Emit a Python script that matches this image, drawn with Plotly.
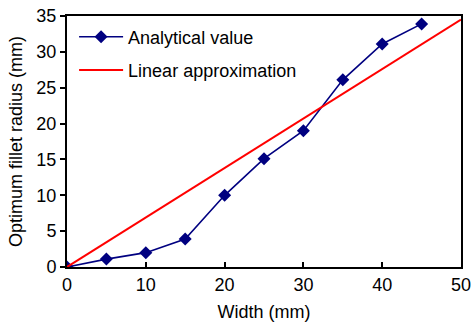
import plotly.graph_objects as go

width_mm = [0, 5, 10, 15, 20, 25, 30, 35, 40, 45]
analytical = [0, 1.1, 2.0, 3.9, 10.0, 15.1, 19.0, 26.1, 31.1, 33.9]
lin_x = [0, 50]
lin_y = [0, 34.5]

fig = go.Figure()
fig.add_trace(go.Scatter(x=width_mm, y=analytical, mode="lines+markers",
                         name="Analytical value", legendgroup="a",
                         line=dict(color="#000080", width=1.6),
                         marker=dict(symbol="diamond", size=10, color="#000080")))
fig.add_trace(go.Scatter(x=lin_x, y=lin_y, mode="lines",
                         name="Linear approximation", legendgroup="b",
                         line=dict(color="#ff0000", width=2)))

font = "Liberation Sans, Arial, sans-serif"
fig.update_layout(
    width=473, height=322,
    margin=dict(l=67, r=12, t=16, b=55),
    plot_bgcolor="white", paper_bgcolor="white",
    font=dict(family=font, size=18, color="black"),
    legend=dict(x=0.018, y=0.99, xanchor="left", yanchor="top",
                bgcolor="rgba(0,0,0,0)", font=dict(size=18),
                tracegroupgap=7, itemwidth=44),
    xaxis=dict(range=[0, 50], tickvals=[0, 10, 20, 30, 40, 50],
               ticks="inside", ticklen=5, tickwidth=2, tickcolor="black",
               showline=True, linecolor="black", linewidth=2, mirror=True,
               showgrid=False, zeroline=False, automargin=False,
               title=dict(text="Width (mm)", font=dict(size=18), standoff=14),
               tickfont=dict(size=18)),
    yaxis=dict(range=[0, 35], tickvals=[0, 5, 10, 15, 20, 25, 30, 35],
               ticks="outside", ticklen=5, tickwidth=2, tickcolor="black",
               showline=True, linecolor="black", linewidth=2, mirror=True,
               showgrid=False, zeroline=False, automargin=False,
               title=dict(text="Optimum fillet radius (mm)", font=dict(size=18), standoff=9),
               tickfont=dict(size=18)),
)
fig.write_html("out.html")
